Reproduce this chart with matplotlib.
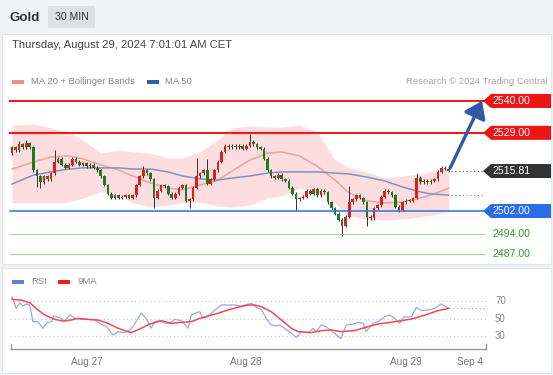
import matplotlib
matplotlib.use("Agg")
import matplotlib.pyplot as plt
from matplotlib.patches import Rectangle, Polygon, FancyArrowPatch

plt.rcParams['font.family'] = ['Liberation Sans', 'DejaVu Sans']

W, H = 553, 375

# ---- 30 min candles (close of each bar, open = previous close) ----
first_open = 2522.0
closes = [
    2524.0, 2523.0, 2525.0, 2524.0, 2525.5, 2524.0, 2516.0, 2514.0, 2512.0, 2514.0,
    2513.0, 2515.0, 2519.0, 2520.0, 2518.0, 2517.0, 2518.0, 2520.0, 2519.0, 2518.0,
    2518.5, 2517.5, 2518.0, 2517.0, 2516.0, 2514.0, 2511.0, 2508.0, 2506.5, 2507.5,
    2506.5, 2507.0, 2507.5, 2506.5, 2507.5, 2511.0, 2514.0, 2516.0, 2515.0, 2513.0,
    2506.5, 2509.0, 2511.0, 2510.5, 2508.0, 2506.5, 2508.0, 2510.0, 2511.0, 2505.5,
    2506.0, 2510.0, 2514.0, 2515.0, 2516.0, 2511.5, 2513.0, 2516.0, 2519.0, 2522.5,
    2524.5, 2524.0, 2524.5, 2524.0, 2524.5, 2523.5, 2524.5, 2526.0, 2525.0, 2524.0,
    2523.5, 2520.0, 2516.0, 2514.0, 2513.5, 2514.5, 2513.0, 2512.5, 2510.0, 2508.0,
    2506.0, 2506.5, 2507.0, 2509.0, 2508.0, 2509.5, 2507.5, 2509.0, 2508.5, 2505.0,
    2503.0, 2501.0, 2499.0, 2497.0, 2500.0, 2505.0, 2506.0, 2507.5, 2506.5, 2505.0,
    2500.0, 2499.5, 2503.0, 2504.0, 2507.0, 2509.0, 2508.5, 2507.5, 2503.5, 2502.5,
    2505.0, 2505.5, 2505.5, 2506.5, 2513.5, 2512.0, 2512.5, 2512.0, 2512.5, 2513.0,
    2515.5, 2517.0, 2516.5, 2515.81,
]
long_highs = {2: 2526.3, 4: 2526.5, 12: 2523.0, 37: 2517.5, 52: 2520.3, 55: 2520.0,
              67: 2528.7, 95: 2510.5, 114: 2515.2}
long_lows = {7: 2510.3, 8: 2510.0, 40: 2502.9, 50: 2503.2, 80: 2502.0, 93: 2493.5,
             100: 2497.0, 109: 2501.5}

# ---- moving averages and bollinger bands (sampled bars) ----
ma_idx = [0, 6, 11, 16, 20, 25, 30, 34, 39, 44, 48, 53, 58, 62, 67, 72, 76, 81, 86,
          91, 95, 100, 105, 110, 115, 118, 123]
ma20 = [2516.5, 2518.9, 2520.7, 2521.0, 2520.0, 2517.9, 2516.2, 2514.1, 2511.7, 2509.9,
        2509.3, 2511.0, 2512.7, 2515.8, 2519.6, 2522.0, 2522.4, 2521.0, 2517.5, 2512.7,
        2508.2, 2505.5, 2504.8, 2505.1, 2506.5, 2507.5, 2509.9]
ma50 = [2511.3, 2514.4, 2515.5, 2516.5, 2516.9, 2516.9, 2516.9, 2516.5, 2516.5, 2515.5,
        2514.1, 2513.1, 2512.7, 2513.4, 2514.1, 2515.1, 2515.5, 2515.5, 2515.5, 2515.1,
        2514.8, 2513.7, 2512.4, 2510.3, 2508.6, 2507.9, 2507.5]
bb_upper = [2531.7, 2532.1, 2530.7, 2529.3, 2526.5, 2522.0, 2523.1, 2522.4, 2522.0, 2520.3,
            2520.3, 2522.4, 2526.5, 2530.7, 2531.4, 2531.0, 2531.0, 2531.7, 2529.3, 2519.6,
            2516.9, 2515.5, 2513.4, 2514.1, 2514.8, 2515.5, 2517.2]
bb_lower = [2504.8, 2504.8, 2504.8, 2505.1, 2506.5, 2508.6, 2508.2, 2504.8, 2503.4, 2504.1,
            2504.8, 2505.1, 2503.7, 2503.4, 2504.1, 2506.5, 2507.2, 2509.9, 2508.9, 2504.8,
            2500.3, 2499.2, 2498.9, 2499.2, 2499.9, 2500.6, 2501.7]

# ---- RSI panel ----
rsi_idx = [0, 1.2, 2.2, 3.1, 4.0, 5.0, 5.9, 7.3, 8.7, 9.9, 11.1, 11.8, 13.4, 14.8, 16.3,
           17.7, 19.5, 21.4, 23.3, 24.7, 26.6, 28.5, 29.9, 31.3, 32.7, 34.1, 35.5, 36.4,
           37.8, 39.2, 40.2, 41.6, 43.0, 44.4, 45.8, 47.7, 49.6, 50.5, 51.9, 52.9, 53.8,
           55.2, 57.1, 59.0, 60.8, 62.7, 64.6, 67.4, 69.3, 70.2, 71.6, 73.0, 74.5, 75.4,
           76.8, 78.7, 80.1, 81.5, 83.4, 84.8, 85.7, 87.1, 88.5, 89.9, 91.4, 92.6, 94.2,
           96.1, 97.5, 98.9, 99.8, 101.7, 103.1, 105.0, 106.4, 107.8, 109.2, 110.4, 112.5,
           113.9, 115.3, 117.2, 119.1, 120.9, 123]
rsi = [75, 61.6, 68, 64.3, 66.6, 65.4, 46.4, 46.4, 38.8, 45.2, 46.4, 52.9, 51, 47.5, 54,
       50.2, 49, 49, 48.3, 44.5, 40.7, 31.1, 35, 33.8, 35, 40.7, 50.2, 55.9, 50.2, 38.8,
       46.4, 47.5, 44.5, 44.5, 49, 47.5, 38.8, 54, 56.7, 57.8, 50.2, 52, 59.7, 65.4, 65.4,
       65.4, 64.3, 67.3, 61.6, 60.5, 50.2, 42.6, 41.4, 42.6, 38.8, 33, 28.1, 35, 33.8, 38.8,
       35, 42.6, 40.7, 36.1, 31.1, 27.3, 42.6, 43.7, 45.6, 44.5, 35, 44.5, 46.4, 52, 54,
       50.2, 44.5, 52, 52, 62.8, 59, 59.7, 61.6, 66.6, 61.6]
ma9_idx = [0, 2.6, 5.0, 6.8, 9.2, 12.0, 14.4, 16.7, 18.6, 21.4, 24.2, 27.0, 29.9, 33.6,
           36.4, 38.8, 42.1, 44.9, 47.7, 50.5, 52.9, 55.2, 58.0, 60.8, 63.7, 66.5, 68.4,
           70.2, 73.0, 75.9, 78.7, 80.6, 84.3, 87.1, 89.9, 92.8, 96.5, 100.3, 103.1, 105.9,
           109.7, 113.4, 117.2, 120.0, 123]
rsi_ma9 = [71.9, 71, 68, 61.6, 54, 49, 47.1, 48.3, 50.2, 49, 48.3, 44.5, 38.8, 33.8, 38.8,
           43.7, 47.5, 44.5, 45.6, 46.4, 50.2, 52.9, 55.9, 59.7, 62.8, 65.4, 65.4, 63.5,
           57.8, 48.3, 38.8, 35, 33.8, 36.1, 36.9, 35, 36.1, 40.7, 43.7, 45.2, 47.5, 50.2,
           55.1, 59, 61.6]
rsi_levels = [70, 50, 30]

# ---- key levels ----
resistances = [2540.0, 2529.0]
supports = [2502.0]
lower_targets = [2494.0, 2487.0]
last_price = 2515.81

day_ticks = [21, 66, 111, 129]
day_labels = ["Aug 27", "Aug 28", "Aug 29", "Sep 4"]

# ---- pixel layout helpers ----
BAR_PX, BAR0_PX = 3.55, 12.0


def bx(px):
    # pixel column -> bar index
    return (px - BAR0_PX) / BAR_PX


def fx(px):
    return px / W


def fy(py):
    return 1 - py / H


fig = plt.figure(figsize=(W / 100, H / 100), dpi=100)
fig.patch.set_facecolor('#f1f2f4')

# panels
fig.add_artist(Rectangle((fx(2), fy(264)), fx(549), 230 / H, transform=fig.transFigure,
                         fc='white', ec='#e2e5e9', lw=0.8, zorder=-2))
fig.add_artist(Rectangle((fx(2), fy(373)), fx(549), 105 / H, transform=fig.transFigure,
                         fc='white', ec='#e2e5e9', lw=0.8, zorder=-2))
fig.add_artist(Rectangle((fx(48), fy(28)), fx(47), 22 / H, transform=fig.transFigure,
                         fc='#dde0e5', ec='none', zorder=-1))
fig.text(fx(10), fy(18), "Gold", fontsize=9.6, weight='bold', color='#333333', va='center')
fig.text(fx(71.5), fy(17.5), "30 MIN", fontsize=7.6, color='#333333', va='center', ha='center')
fig.text(fx(12), fy(45), "Thursday, August 29, 2024 7:01:01 AM CET", fontsize=8.1,
         color='#444444', va='center')

# legends
fig.add_artist(Rectangle((fx(12), fy(84)), fx(12), 4 / H, transform=fig.transFigure,
                         fc='#f48c8c', ec='none'))
fig.text(fx(31), fy(82), "MA 20 + Bollinger Bands", fontsize=6.8, color='#888888', va='center')
fig.add_artist(Rectangle((fx(147), fy(84)), fx(12), 4 / H, transform=fig.transFigure,
                         fc='#2f5f9e', ec='none'))
fig.text(fx(165), fy(82), "MA 50", fontsize=6.8, color='#888888', va='center')
fig.text(fx(548), fy(82), "Research \u00a9 2024 Trading Central", fontsize=6.8,
         color='#a8a8a8', va='center', ha='right')

fig.add_artist(Rectangle((fx(12), fy(284)), fx(12), 4 / H, transform=fig.transFigure,
                         fc='#5a7fe0', ec='none'))
fig.text(fx(31), fy(282), "RSI", fontsize=6.8, color='#888888', va='center')
fig.add_artist(Rectangle((fx(58), fy(284)), fx(12), 4 / H, transform=fig.transFigure,
                         fc='#f01c1c', ec='none'))
fig.text(fx(77), fy(282), "9MA", fontsize=6.8, color='#888888', va='center')

# ---- price axes ----
ax = fig.add_axes([0, fy(262), 1, (262 - 92) / H])
ax.set_facecolor('none')
ax.set_xlim(bx(0), bx(W))
ax.set_ylim(2484.4, 2543.1)
ax.axis('off')

ax.fill_between(ma_idx, bb_lower, bb_upper, color='#fddddd', lw=0, zorder=1)
ax.plot(ma_idx, ma20, color='#f4a0a0', lw=1.1, zorder=2)
ax.plot(ma_idx, ma50, color='#7e93c4', lw=1.1, zorder=2)

opens = [first_open] + closes[:-1]
xs = list(range(len(closes)))
highs = [long_highs.get(i, max(o, c) + 0.5) for i, (o, c) in enumerate(zip(opens, closes))]
lows = [long_lows.get(i, min(o, c) - 0.5) for i, (o, c) in enumerate(zip(opens, closes))]
bottoms = [min(o, c) for o, c in zip(opens, closes)]
heights = [max(abs(c - o), 0.3) for o, c in zip(opens, closes)]
colors = ['#e01e1e' if c >= o else '#1e7a22' for o, c in zip(opens, closes)]
ax.vlines(xs, lows, highs, color='#333333', lw=0.7, zorder=3)
ax.bar(xs, heights, bottom=bottoms, width=0.74, color=colors, lw=0, zorder=4)

line_start, line_end = bx(10), bx(484)
for lvl in resistances:
    ax.plot([line_start, line_end], [lvl, lvl], color='#ec1c1c', lw=1.5, zorder=5)
for lvl in supports:
    ax.plot([line_start, line_end], [lvl, lvl], color='#2f6fe0', lw=1.1, zorder=5)
for lvl in lower_targets:
    ax.plot([line_start, line_end], [lvl, lvl], color='#a6d6a6', lw=0.9, zorder=5)
    ax.text(bx(492), lvl, f"{lvl:.2f}", fontsize=7.6, color='#2e9a2e', va='center', ha='left')

ax.plot([len(closes) - 0.4, bx(483)], [last_price, last_price], color='#777777', lw=0.9,
        ls=(0, (1, 2)), zorder=5)
ax.plot([len(closes) - 0.4, bx(483)], [ma50[-1], ma50[-1]], color='#7396d8', lw=0.9,
        ls=(0, (1, 2)), zorder=5)

half = 7 / 2.895
tip, body, end = bx(483), bx(491), bx(551)
boxes = [(lvl, '#ee1515') for lvl in resistances] + [(last_price, '#333333')] + \
        [(lvl, '#2a6de6') for lvl in supports]
for lvl, col in boxes:
    ax.add_patch(Polygon([(tip, lvl), (body, lvl + half), (end, lvl + half),
                          (end, lvl - half), (body, lvl - half)], closed=True,
                         fc=col, ec='none', zorder=6, clip_on=False))
    ax.text(bx(492), lvl, f"{lvl:.2f}", fontsize=7.6, color='white', va='center', ha='left',
            zorder=7)

ax.add_patch(FancyArrowPatch((len(closes) - 0.6, last_price + 1.0), (bx(482), resistances[0]),
                             arrowstyle='-|>,head_length=0.45,head_width=0.32',
                             mutation_scale=22, lw=2.4, color='#2d5ba6',
                             shrinkA=0, shrinkB=0, zorder=8))

# ---- RSI axes ----
rx = fig.add_axes([0, fy(349), 1, (349 - 290) / H])
rx.set_facecolor('none')
rx.set_xlim(bx(0), bx(W))
rx.set_ylim(30 - 13 / 0.875, 70 + 11 / 0.875)
for s in rx.spines.values():
    s.set_visible(False)
rx.set_yticks([])
for lvl in rsi_levels:
    rx.plot([bx(10), bx(486)], [lvl, lvl], color='#c4c4c4', lw=0.8, ls=(0, (1, 2.5)))
    rx.text(bx(495), lvl, str(lvl), fontsize=7, color='#888888', va='center', ha='left')
rx.plot(rsi_idx, rsi, color='#93aaf0', lw=0.9)
rx.plot(ma9_idx, rsi_ma9, color='#f24a4a', lw=1.1)
rx.plot([rsi_idx[-1], bx(484)], [rsi[-1], rsi[-1]], color='#93aaf0', lw=0.9, ls=(0, (1, 2)))

ybot = rx.get_ylim()[0]
rx.plot([bx(10.5), bx(486)], [ybot, ybot], color='#999999', lw=1.0, clip_on=False)
for xe in (bx(10.5), bx(486)):
    rx.plot([xe, xe], [ybot, ybot + 5 / 0.875], color='#999999', lw=1.0, clip_on=False)
rx.set_xticks(day_ticks, day_labels)
rx.tick_params(axis='x', length=0, labelsize=7.2, labelcolor='#777777', pad=6)

fig.savefig('out.png', dpi=100, facecolor=fig.get_facecolor())
